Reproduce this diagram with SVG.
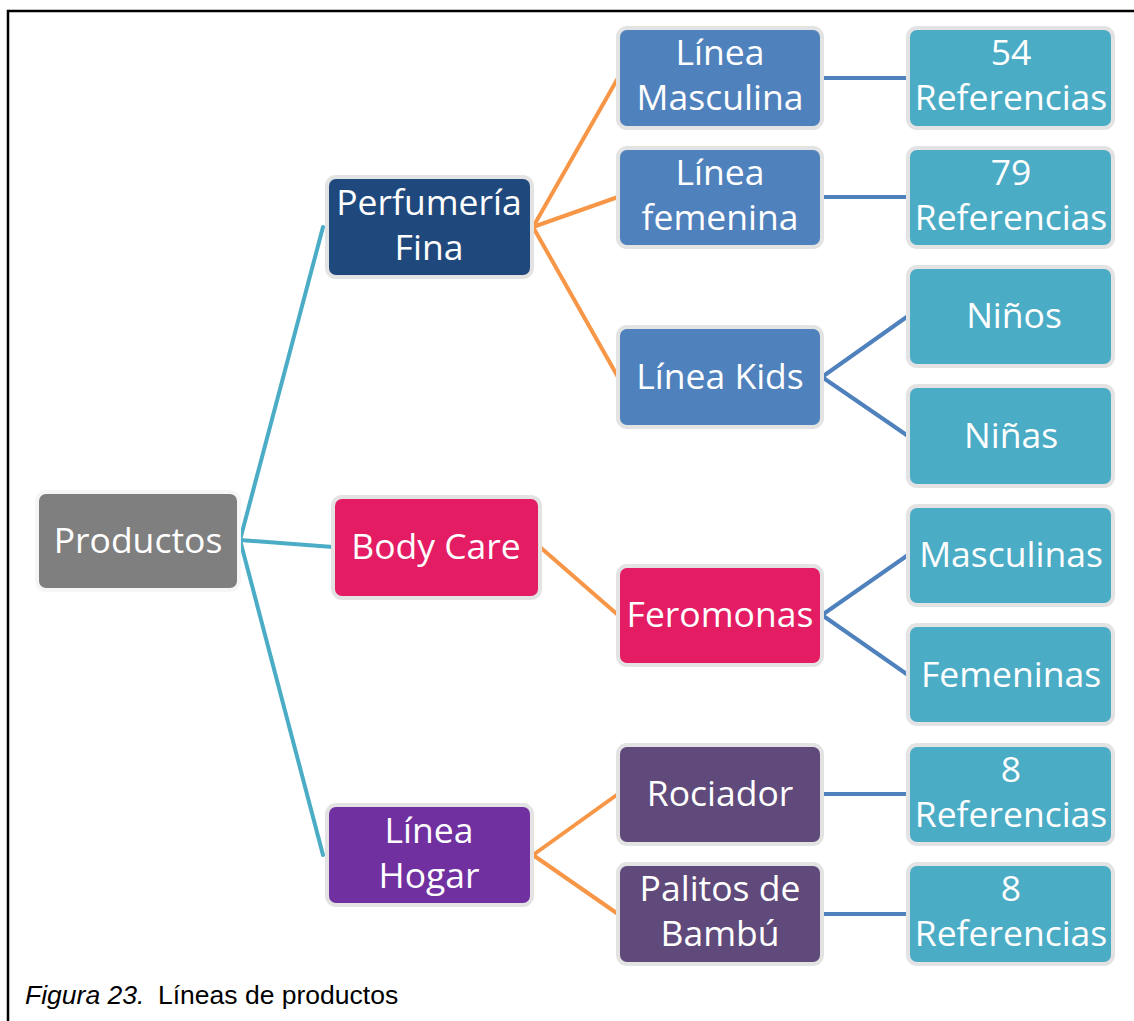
<svg xmlns="http://www.w3.org/2000/svg" width="1134" height="1021" viewBox="0 0 1134 1021">
<style>
.box{stroke:#e3e3e3;stroke-width:4}
.t{font-family:"Open Sans","Noto Sans","DejaVu Sans",sans-serif;font-size:35.5px;fill:#ffffff;text-anchor:middle}
.c1{stroke:#4bacc6;stroke-width:4;fill:none;stroke-linecap:round}
.c2{stroke:#f79646;stroke-width:4;fill:none;stroke-linecap:round}
.c3{stroke:#4f81bd;stroke-width:4;fill:none;stroke-linecap:round}
.cap{font-family:"Liberation Sans",Arial,sans-serif;font-size:26.5px;fill:#000}
</style>
<rect width="1134" height="1021" fill="#ffffff"/>
<path d="M8,1021 V11 H1134" fill="none" stroke="#000" stroke-width="2.5"/>
<g id="connectors">
<line class="c1" x1="240" y1="540" x2="323" y2="227"/>
<line class="c1" x1="240" y1="540" x2="333" y2="547"/>
<line class="c1" x1="240" y1="540" x2="323" y2="855"/>
<line class="c2" x1="533" y1="227" x2="618" y2="78"/>
<line class="c2" x1="533" y1="227" x2="618" y2="197"/>
<line class="c2" x1="533" y1="227" x2="618" y2="377"/>
<line class="c2" x1="540" y1="547" x2="618" y2="615"/>
<line class="c2" x1="533" y1="855" x2="618" y2="794"/>
<line class="c2" x1="533" y1="855" x2="618" y2="914"/>
<line class="c3" x1="822" y1="78" x2="908" y2="78"/>
<line class="c3" x1="822" y1="197" x2="908" y2="197"/>
<line class="c3" x1="822" y1="377" x2="908" y2="316"/>
<line class="c3" x1="822" y1="377" x2="908" y2="436"/>
<line class="c3" x1="822" y1="615" x2="908" y2="555"/>
<line class="c3" x1="822" y1="615" x2="908" y2="675"/>
<line class="c3" x1="822" y1="794" x2="908" y2="794"/>
<line class="c3" x1="822" y1="914" x2="908" y2="914"/>
</g>
<g id="productos"><rect x="37" y="492" width="202" height="98" rx="9" fill="#7f7f7f" stroke="#f6f6f6" stroke-width="4"/><text class="t" x="138" y="553">Productos</text></g>
<g id="perfumeria"><rect class="box" x="327" y="177" width="205" height="100" rx="9" fill="#1f497d"/><text class="t" x="429" y="215">Perfumería</text><text class="t" x="429" y="260">Fina</text></g>
<g id="bodycare"><rect class="box" x="333" y="497" width="207" height="101" rx="9" fill="#e31c64"/><text class="t" x="436" y="559">Body Care</text></g>
<g id="hogar"><rect class="box" x="327" y="805" width="205" height="100" rx="9" fill="#7030a0"/><text class="t" x="429" y="843">Línea</text><text class="t" x="429" y="888">Hogar</text></g>
<g id="masculina"><rect class="box" x="618" y="28" width="204" height="100" rx="9" fill="#4f81bd"/><text class="t" x="720" y="65">Línea</text><text class="t" x="720" y="110">Masculina</text></g>
<g id="femenina"><rect class="box" x="618" y="148" width="204" height="99" rx="9" fill="#4f81bd"/><text class="t" x="720" y="185">Línea</text><text class="t" x="720" y="230">femenina</text></g>
<g id="kids"><rect class="box" x="618" y="327" width="204" height="100" rx="9" fill="#4f81bd"/><text class="t" x="720" y="389">Línea Kids</text></g>
<g id="ref54"><rect class="box" x="908" y="28" width="205" height="100" rx="9" fill="#4bacc6"/><text class="t" x="1011" y="65">54</text><text class="t" x="1011" y="110">Referencias</text></g>
<g id="ref79"><rect class="box" x="908" y="148" width="205" height="99" rx="9" fill="#4bacc6"/><text class="t" x="1011" y="185">79</text><text class="t" x="1011" y="230">Referencias</text></g>
<g id="ninos"><rect class="box" x="908" y="267" width="205" height="99" rx="9" fill="#4bacc6"/><text class="t" x="1014" y="328">Niños</text></g>
<g id="ninas"><rect class="box" x="908" y="386" width="205" height="100" rx="9" fill="#4bacc6"/><text class="t" x="1011" y="448">Niñas</text></g>
<g id="feromonas"><rect class="box" x="618" y="566" width="204" height="99" rx="9" fill="#e31c64"/><text class="t" x="720" y="627">Feromonas</text></g>
<g id="masculinas"><rect class="box" x="908" y="506" width="205" height="99" rx="9" fill="#4bacc6"/><text class="t" x="1011" y="567">Masculinas</text></g>
<g id="femeninas"><rect class="box" x="908" y="625" width="205" height="99" rx="9" fill="#4bacc6"/><text class="t" x="1011" y="687">Femeninas</text></g>
<g id="rociador"><rect class="box" x="618" y="745" width="204" height="99" rx="9" fill="#604a7b"/><text class="t" x="720" y="806">Rociador</text></g>
<g id="palitos"><rect class="box" x="618" y="864" width="204" height="100" rx="9" fill="#604a7b"/><text class="t" x="720" y="901">Palitos de</text><text class="t" x="720" y="946">Bambú</text></g>
<g id="ref8a"><rect class="box" x="908" y="745" width="205" height="99" rx="9" fill="#4bacc6"/><text class="t" x="1011" y="782">8</text><text class="t" x="1011" y="827">Referencias</text></g>
<g id="ref8b"><rect class="box" x="908" y="864" width="205" height="100" rx="9" fill="#4bacc6"/><text class="t" x="1011" y="901">8</text><text class="t" x="1011" y="946">Referencias</text></g>
<g id="caption"><text class="cap" x="25" y="1004"><tspan font-style="italic">Figura 23.</tspan><tspan x="158">Líneas de productos</tspan></text></g>
</svg>
